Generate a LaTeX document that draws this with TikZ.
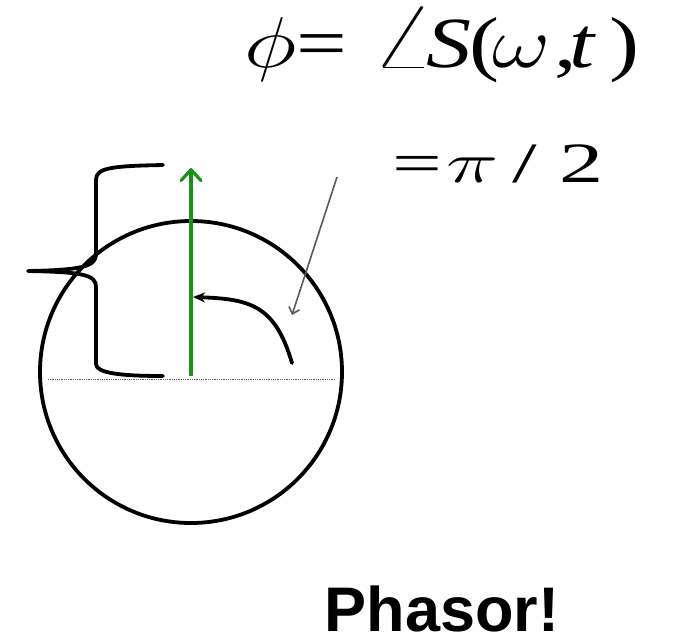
\RequirePackage{fix-cm}
\documentclass[tikz,border=0pt]{standalone}
\usepackage{fontspec}
\setmainfont{Liberation Serif}
\newfontfamily\arialbold[BoldFont={Liberation Sans Bold}]{Liberation Sans}
\usetikzlibrary{arrows.meta}
\definecolor{phgreen}{RGB}{20,150,20}
\definecolor{leadgray}{RGB}{90,90,90}
\newcommand{\gl}[2]{\makebox[#1pt][l]{#2}}
\tikzset{
  thickline/.style={line width=3.8pt, line cap=round, line join=round},
  eqtext/.style={inner sep=0pt, anchor=base west},
}
\begin{document}
\begin{tikzpicture}[x=1pt,y=-1pt]
\useasboundingbox[fill=white] (0,0) rectangle (676,638);
% circle
\coordinate (cc) at (191,372);
\draw[line width=3.8pt] (cc) circle[radius=151];
% dotted horizontal axis
\coordinate (axL) at (48,379);
\coordinate (axR) at (335,379);
\draw[leadgray, line width=0.8pt, densely dotted] (axL) -- (axR);
% green phasor
\coordinate (orig) at (191,376);
\coordinate (ptop) at (191,168);
\draw[phgreen, line width=3.2pt, -{Straight Barb[length=11pt, width=20pt, line cap=round, line join=round]}] (orig) -- (ptop);
% brace
\coordinate (brT) at (163,165);
\coordinate (brTip) at (28,271);
\coordinate (brB) at (163,376);
\draw[thickline] (brT) .. controls (110,166) and (96,168) .. (96,180) -- (96,254)
  .. controls (96,266) and (84,270) .. (brTip)
  .. controls (84,272) and (96,275) .. (96,287) -- (96,364)
  .. controls (96,373) and (120,376) .. (brB);
% curved rotation arrow
\coordinate (rotS) at (292,363);
\coordinate (rotE) at (193,297);
\draw[thickline, -{Stealth[length=12pt, width=10pt]}] (rotS) .. controls (275,305) and (250,299) .. (rotE);
% gray leader arrow
\coordinate (ldS) at (337,177);
\coordinate (ldE) at (292,315);
\draw[leadgray, line width=1.6pt, -{Straight Barb[length=6pt, width=11pt]}] (ldS) -- (ldE);
% texts
\node[eqtext, font=\fontsize{72}{82}\selectfont] (eq1) at (244,67)
  {\scalebox{1.25}[1]{\gl{41.6}{$\phi$}\gl{60}{=}\gl{44}{\scalebox{1.3}{$\angle$}}\gl{34.4}{\textit{S}}\gl{18.4}{(}\gl{49.6}{$\omega$}\gl{12}{,}\gl{32}{\textit{t}})}};
\node[eqtext, font=\fontsize{57}{66}\selectfont] (eq2) at (392,182)
  {\scalebox{1.55}[1]{\gl{34.8}{=}\gl{42.6}{$\pi$}\gl{30.3}{/}2}};
\node[inner sep=0pt, anchor=base, text depth=0pt, font=\fontsize{63}{72}\selectfont\arialbold\bfseries] (ph) at (442,631) {Phasor!};
\end{tikzpicture}
\end{document}
